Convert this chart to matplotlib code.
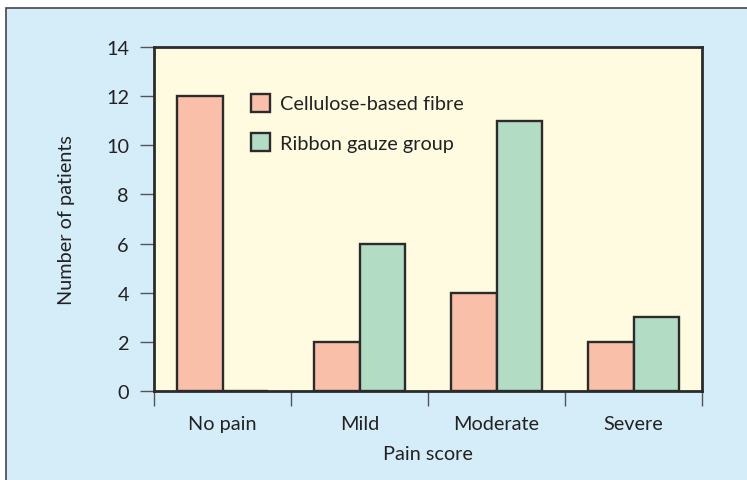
import matplotlib.pyplot as plt
import numpy as np
from matplotlib.patches import Rectangle

categories = ['No pain', 'Mild', 'Moderate', 'Severe']
cellulose = [12, 2, 4, 2]
ribbon = [0, 6, 11, 3]
series_names = ['Cellulose-based fibre', 'Ribbon gauze group']

pink = '#f9bfa8'
green = '#b3dcc4'
edge = '#2b2b2b'
fs = 14.3

plt.rcParams['font.family'] = ['Lato', 'DejaVu Sans']

fig = plt.figure(figsize=(7.47, 4.81), dpi=100)
fig.patch.set_facecolor('white')
# blue panel with dark border on top/left
fig.patches.append(Rectangle((6 / 747, -0.05), 1.1, (481 - 9) / 481 + 0.05, transform=fig.transFigure,
                             facecolor='#d5ecf9', edgecolor='#444444', linewidth=1.2, zorder=-5))

ax = fig.add_axes([154 / 747, 1 - 392 / 481, 548 / 747, 344 / 481])
ax.set_facecolor('#fefbe0')

x = np.arange(len(categories))
w = 0.335
ax.bar(x - w / 2, cellulose, w, color=pink, edgecolor=edge, linewidth=1.7, label=series_names[0])
ax.bar(x + w / 2, ribbon, w, color=green, edgecolor=edge, linewidth=1.7, label=series_names[1])

ax.set_xlim(-0.5, len(categories) - 0.5)
ax.set_ylim(0, 14)
ax.set_yticks(np.arange(0, 15, 2))
ax.set_xticks(x)
ax.set_xticklabels(categories)
ax.set_xticks(np.arange(-0.5, len(categories), 1), minor=True)

ax.tick_params(axis='x', which='major', length=0, pad=17.5, labelsize=fs, labelcolor='#222222')
ax.tick_params(axis='x', which='minor', length=11, width=1, color='#555555', direction='out')
ax.tick_params(axis='y', length=10, width=1, color='#555555', pad=8, labelsize=fs, labelcolor='#222222')

for s in ax.spines.values():
    s.set_color(edge)
    s.set_linewidth(2)

ax.set_xlabel('Pain score', fontsize=fs, color='#222222', labelpad=9)
ax.set_ylabel('Number of patients', fontsize=fs, color='#222222', labelpad=22)

leg = ax.legend(loc='upper left', bbox_to_anchor=(0.145, 0.916), frameon=False, fontsize=fs,
                handlelength=0.95, handleheight=1.0, handletextpad=0.5, labelspacing=1.05)
for t in leg.get_texts():
    t.set_color('#222222')

fig.savefig('out.png', dpi=100, facecolor=fig.get_facecolor())
